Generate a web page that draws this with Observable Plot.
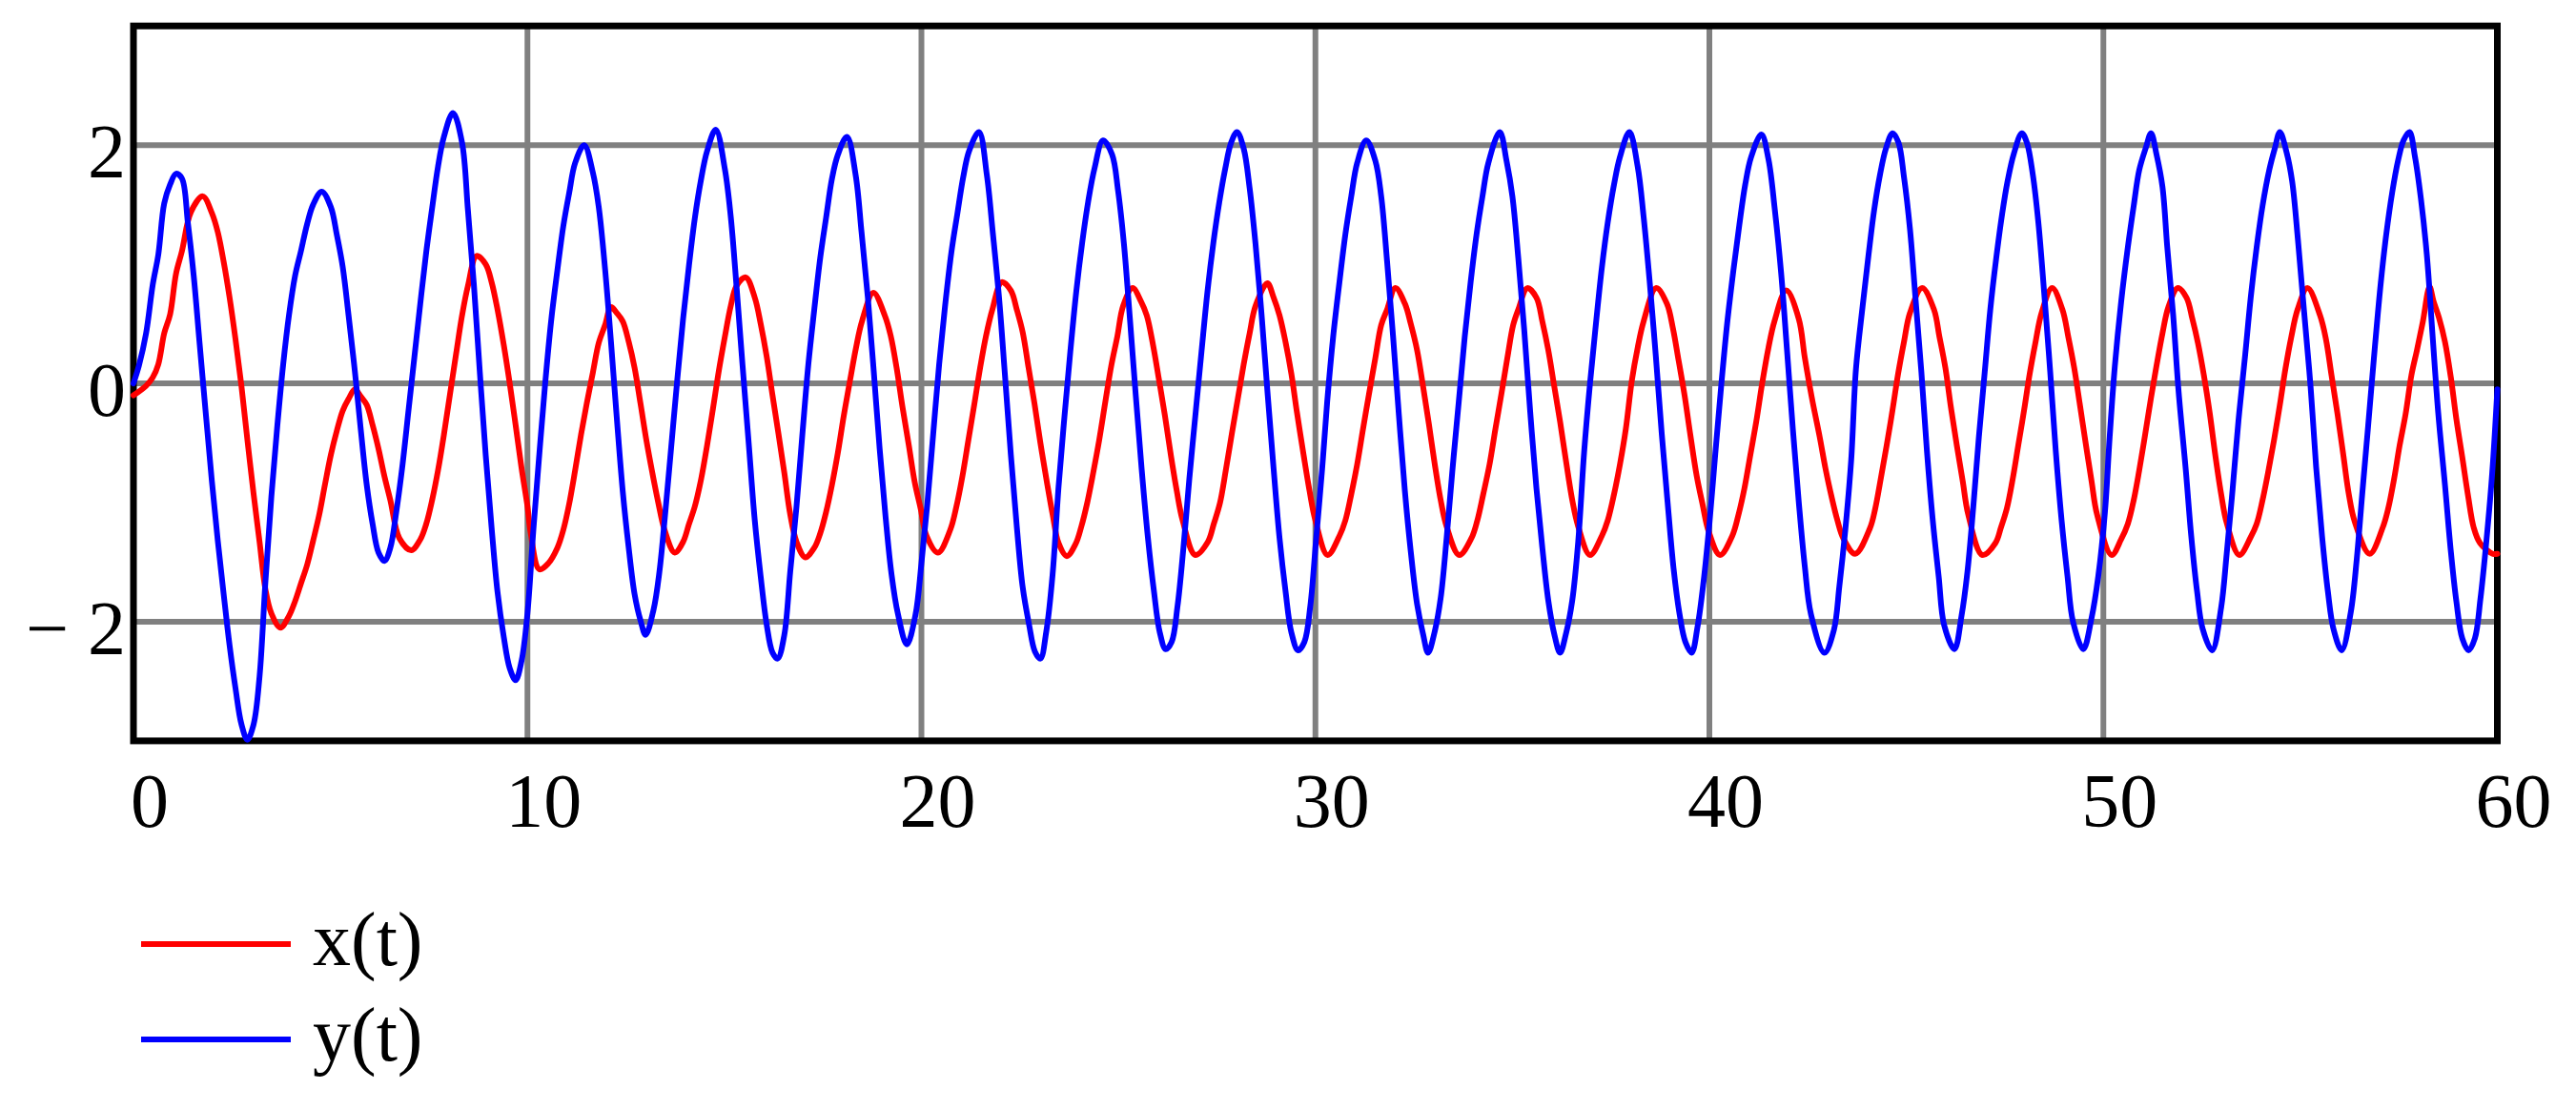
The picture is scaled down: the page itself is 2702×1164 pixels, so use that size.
<!DOCTYPE html>
<html>
<head>
<meta charset="utf-8">
<script src="https://cdn.jsdelivr.net/npm/d3@7"></script>
<script src="https://cdn.jsdelivr.net/npm/@observablehq/plot@0.6"></script>
<style>
  html, body { margin: 0; padding: 0; background: #fff; }
  #chart { width: 2702px; height: 1164px; overflow: hidden; }
  #legend svg text { font-family: "Liberation Serif", "DejaVu Serif", serif; font-size: 80px; }
</style>
</head>
<body>
<div id="chart"></div>
<script>
// ---- data ----
const seriesNames = ["x(t)", "y(t)"];
const seriesColors = ["#ff0000", "#0000ff"];

const xTicks = [0, 10, 20, 30, 40, 50, 60];
const xGrid = [10, 20, 30, 40, 50];
const yTicks = [-2, 0, 2];
const yTickLabels = ["\u2212 2", "0", "2"];
const yGrid = [-2, 0, 2];

// x(t) : red series
const tX = [
  0, 0.32, 0.49, 0.63, 0.78, 0.93, 1.08, 1.23, 1.46, 1.76, 1.99, 2.14, 2.29, 2.44, 2.59, 2.74, 2.89, 3.05, 3.20, 3.35,
  3.50, 3.73, 3.95, 4.10, 4.25, 4.41, 4.56, 4.71, 4.86, 5.01, 5.16, 5.31, 5.46, 5.62, 5.77, 5.92, 6.07, 6.22, 6.37, 6.52,
  6.75, 7.05, 7.28, 7.43, 7.58, 7.73, 7.88, 8.03, 8.19, 8.34, 8.49, 8.71, 8.94, 9.09, 9.24, 9.40, 9.55, 9.70, 9.85, 10.00,
  10.08, 10.30, 10.53, 10.76, 10.91, 11.06, 11.21, 11.36, 11.51, 11.66, 11.81, 11.97, 12.12, 12.27, 12.42, 12.57, 12.72, 12.87, 13.02, 13.17,
  13.32, 13.48, 13.74, 13.95, 14.10, 14.25, 14.41, 14.56, 14.71, 14.86, 15.01, 15.16, 15.31, 15.54, 15.77, 15.92, 16.07, 16.22, 16.37, 16.52,
  16.67, 16.83, 17.05, 17.28, 17.43, 17.58, 17.73, 17.88, 18.03, 18.19, 18.34, 18.49, 18.78, 19.07, 19.22, 19.37, 19.52, 19.68, 19.83, 19.98,
  20.13, 20.42, 20.73, 20.89, 21.04, 21.19, 21.34, 21.49, 21.64, 21.80, 22.04, 22.27, 22.42, 22.57, 22.72, 22.87, 23.02, 23.18, 23.33, 23.48,
  23.69, 23.91, 24.06, 24.21, 24.36, 24.51, 24.67, 24.82, 24.97, 25.12, 25.36, 25.57, 25.72, 25.88, 26.03, 26.18, 26.33, 26.48, 26.63, 26.95,
  27.27, 27.42, 27.58, 27.73, 27.88, 28.03, 28.18, 28.33, 28.48, 28.78, 28.94, 29.09, 29.24, 29.39, 29.53, 29.70, 29.85, 30.00, 30.31, 30.61,
  30.76, 30.91, 31.06, 31.21, 31.36, 31.52, 31.67, 31.82, 32.03, 32.27, 32.42, 32.58, 32.73, 32.88, 33.03, 33.18, 33.33, 33.65, 33.96, 34.11,
  34.26, 34.42, 34.57, 34.72, 34.87, 35.02, 35.15, 35.38, 35.61, 35.76, 35.91, 36.06, 36.21, 36.36, 36.52, 36.67, 36.97, 37.27, 37.42, 37.58,
  37.73, 37.88, 38.03, 38.18, 38.33, 38.65, 38.92, 39.07, 39.22, 39.37, 39.52, 39.68, 39.83, 39.98, 40.27, 40.58, 40.74, 40.89, 41.04, 41.19,
  41.34, 41.50, 41.65, 41.95, 42.27, 42.42, 42.60, 42.80, 42.95, 43.10, 43.25, 43.40, 43.70, 44.07, 44.21, 44.35, 44.50, 44.65, 44.79, 44.94, 45.09,
  45.40, 45.70, 45.84, 45.99, 46.13, 46.28, 46.43, 46.57, 46.93, 47.26, 47.40, 47.55, 47.70, 47.84, 47.99, 48.13, 48.28, 48.43, 48.70, 48.96,
  49.11, 49.26, 49.40, 49.55, 49.70, 49.84, 50.21, 50.45, 50.62, 50.77, 50.91, 51.06, 51.21, 51.35, 51.50, 51.65, 51.89, 52.11, 52.26, 52.40,
  52.55, 52.70, 52.84, 52.99, 53.13, 53.45, 53.74, 53.89, 54.04, 54.18, 54.33, 54.48, 54.62, 54.77, 54.93, 55.18, 55.50, 55.65, 55.79, 55.94,
  56.09, 56.23, 56.38, 56.76, 57.09, 57.23, 57.38, 57.52, 57.67, 57.82, 57.96, 58.11, 58.28, 58.38, 58.52, 58.67, 58.82, 58.96, 59.11, 59.26,
  59.40, 59.56, 59.88, 60.00
];
const xVals = [
  -0.10, -0.02, 0.05, 0.16, 0.42, 0.58, 0.92, 1.11, 1.44, 1.57, 1.43, 1.27, 1.02, 0.72, 0.37, -0.02, -0.47, -0.93, -1.33, -1.73,
  -1.93, -2.05, -1.95, -1.83, -1.68, -1.52, -1.32, -1.11, -0.85, -0.60, -0.40, -0.23, -0.13, -0.05, -0.11, -0.18, -0.35, -0.55, -0.78, -0.98,
  -1.30, -1.40, -1.31, -1.18, -0.98, -0.73, -0.43, -0.10, 0.25, 0.57, 0.82, 1.07, 1.00, 0.85, 0.62, 0.32, 0.00, -0.35, -0.71, -1.03,
  -1.25, -1.56, -1.51, -1.38, -1.23, -1.01, -0.73, -0.43, -0.16, 0.09, 0.34, 0.49, 0.64, 0.59, 0.52, 0.35, 0.13, -0.17, -0.48, -0.75,
  -1.00, -1.23, -1.42, -1.33, -1.18, -1.03, -0.80, -0.52, -0.21, 0.11, 0.39, 0.65, 0.82, 0.89, 0.72, 0.50, 0.23, -0.10, -0.42, -0.75,
  -1.10, -1.33, -1.46, -1.38, -1.26, -1.08, -0.85, -0.58, -0.27, 0.03, 0.30, 0.52, 0.76, 0.57, 0.40, 0.13, -0.20, -0.52, -0.83, -1.05,
  -1.28, -1.42, -1.23, -1.03, -0.78, -0.48, -0.18, 0.13, 0.40, 0.62, 0.85, 0.78, 0.62, 0.43, 0.13, -0.17, -0.50, -0.82, -1.10, -1.34,
  -1.45, -1.35, -1.20, -1.00, -0.75, -0.48, -0.15, 0.15, 0.39, 0.65, 0.80, 0.69, 0.57, 0.32, 0.03, -0.27, -0.60, -0.90, -1.15, -1.44,
  -1.33, -1.18, -1.00, -0.72, -0.42, -0.13, 0.16, 0.42, 0.65, 0.84, 0.72, 0.57, 0.35, 0.08, -0.24, -0.60, -0.90, -1.15, -1.44, -1.28,
  -1.15, -0.93, -0.68, -0.38, -0.09, 0.21, 0.49, 0.62, 0.80, 0.67, 0.50, 0.28, -0.02, -0.34, -0.68, -0.98, -1.20, -1.44, -1.30, -1.15,
  -0.93, -0.68, -0.38, -0.09, 0.21, 0.49, 0.62, 0.80, 0.72, 0.52, 0.28, -0.02, -0.32, -0.65, -0.98, -1.20, -1.44, -1.28, -1.15, -0.93,
  -0.68, -0.38, 0.02, 0.30, 0.52, 0.80, 0.67, 0.47, 0.19, -0.10, -0.44, -0.78, -1.02, -1.24, -1.44, -1.28, -1.10, -0.88, -0.60, -0.32,
  0.00, 0.30, 0.52, 0.78, 0.54, 0.22, -0.12, -0.45, -0.72, -0.95, -1.15, -1.30, -1.43, -1.22, -1.05, -0.80, -0.52, -0.22, 0.08, 0.35, 0.59,
  0.80, 0.62, 0.39, 0.13, -0.20, -0.52, -0.82, -1.10, -1.44, -1.34, -1.21, -1.05, -0.80, -0.52, -0.22, 0.08, 0.35, 0.59, 0.80, 0.62,
  0.39, 0.13, -0.17, -0.50, -0.82, -1.10, -1.44, -1.31, -1.18, -0.98, -0.73, -0.43, -0.12, 0.15, 0.42, 0.64, 0.80, 0.72, 0.54, 0.34,
  0.07, -0.25, -0.60, -0.93, -1.17, -1.44, -1.29, -1.18, -0.98, -0.75, -0.48, -0.18, 0.12, 0.39, 0.62, 0.80, 0.57, 0.37, 0.07, -0.25,
  -0.60, -0.93, -1.16, -1.43, -1.21, -1.05, -0.80, -0.52, -0.26, 0.07, 0.28, 0.52, 0.81, 0.69, 0.55, 0.35, 0.05, -0.30, -0.62, -0.95,
  -1.21, -1.34, -1.43, -1.43
];

// y(t) : blue series
const tY = [
  0, 0.14, 0.32, 0.49, 0.63, 0.78, 0.93, 1.08, 1.23, 1.38, 1.53, 1.68, 1.84, 1.99, 2.14, 2.29, 2.44, 2.59, 2.74, 2.89,
  3.05, 3.20, 3.35, 3.50, 3.65, 3.80, 3.95, 4.10, 4.25, 4.41, 4.56, 4.78, 5.01, 5.16, 5.31, 5.46, 5.62, 5.77, 5.92, 6.07,
  6.22, 6.37, 6.52, 6.67, 6.83, 6.98, 7.13, 7.28, 7.43, 7.58, 7.73, 7.88, 8.11, 8.34, 8.49, 8.64, 8.79, 8.94, 9.09, 9.24,
  9.40, 9.55, 9.70, 9.85, 10.00, 10.15, 10.30, 10.45, 10.60, 10.76, 10.91, 11.06, 11.21, 11.44, 11.66, 11.81, 11.97, 12.12, 12.27, 12.42,
  12.57, 12.72, 12.87, 13.00, 13.20, 13.35, 13.50, 13.65, 13.80, 13.95, 14.10, 14.25, 14.40, 14.56, 14.78, 15.01, 15.16, 15.31, 15.46, 15.62,
  15.77, 15.92, 16.07, 16.22, 16.35, 16.52, 16.67, 16.83, 16.98, 17.13, 17.28, 17.43, 17.58, 17.73, 17.88, 18.11, 18.33, 18.48, 18.64, 18.79,
  18.94, 19.09, 19.24, 19.40, 19.63, 19.85, 20.00, 20.15, 20.30, 20.45, 20.60, 20.76, 20.91, 21.06, 21.21, 21.46, 21.66, 21.81, 21.97, 22.12,
  22.27, 22.42, 22.57, 22.73, 22.88, 23.02, 23.17, 23.33, 23.48, 23.63, 23.78, 23.93, 24.08, 24.23, 24.39, 24.61, 24.84, 24.99, 25.14, 25.29,
  25.44, 25.59, 25.75, 25.90, 26.05, 26.20, 26.35, 26.50, 26.65, 26.80, 26.95, 27.11, 27.26, 27.41, 27.56, 27.71, 27.86, 28.01, 28.18, 28.33,
  28.48, 28.64, 28.79, 28.94, 29.09, 29.24, 29.39, 29.56, 29.72, 29.87, 30.02, 30.17, 30.30, 30.45, 30.61, 30.76, 30.91, 31.06, 31.29, 31.52,
  31.67, 31.82, 31.97, 32.12, 32.27, 32.42, 32.58, 32.73, 32.86, 33.03, 33.18, 33.33, 33.48, 33.64, 33.79, 33.94, 34.09, 34.24, 34.39, 34.68,
  34.85, 35.00, 35.15, 35.30, 35.45, 35.61, 35.76, 35.91, 36.06, 36.21, 36.36, 36.52, 36.67, 36.82, 36.97, 37.12, 37.27, 37.42, 37.58, 37.73,
  37.97, 38.18, 38.33, 38.48, 38.64, 38.79, 38.94, 39.09, 39.24, 39.39, 39.55, 39.70, 39.85, 40.00, 40.15, 40.30, 40.45, 40.61, 40.76, 40.91,
  41.06, 41.32, 41.50, 41.66, 41.82, 41.97, 42.12, 42.27, 42.42, 42.58, 42.92, 43.16, 43.30, 43.45, 43.60, 43.72, 43.89, 44.04, 44.18, 44.33,
  44.48, 44.65, 44.80, 44.94, 45.09, 45.23, 45.38, 45.52, 45.67, 45.82, 45.96, 46.22, 46.40, 46.55, 46.70, 46.84, 46.99, 47.13, 47.28, 47.43,
  47.57, 47.73, 47.93, 48.06, 48.21, 48.35, 48.50, 48.65, 48.79, 48.94, 49.09, 49.23, 49.49, 49.70, 49.87, 50.04, 50.16, 50.29, 50.45, 50.62,
  50.77, 50.91, 51.08, 51.21, 51.35, 51.50, 51.62, 51.77, 51.91, 52.09, 52.23, 52.38, 52.52, 52.76, 52.99, 53.13, 53.28, 53.43, 53.60, 53.74,
  53.89, 54.04, 54.21, 54.35, 54.48, 54.65, 54.79, 54.94, 55.09, 55.26, 55.40, 55.55, 55.70, 55.84, 56.05, 56.28, 56.43, 56.57, 56.72, 56.89,
  57.04, 57.18, 57.33, 57.48, 57.62, 57.77, 57.91, 58.06, 58.21, 58.35, 58.50, 58.67, 58.82, 58.96, 59.11, 59.27, 59.43, 59.57, 59.72, 59.87,
  60.00
];
const yVals = [
  0.00, 0.15, 0.42, 0.83, 1.08, 1.51, 1.67, 1.76, 1.72, 1.35, 0.90, 0.33, -0.27, -0.82, -1.32, -1.77, -2.20, -2.56, -2.86, -2.99,
  -2.86, -2.46, -1.66, -0.95, -0.36, 0.16, 0.58, 0.90, 1.11, 1.34, 1.50, 1.61, 1.48, 1.25, 0.98, 0.57, 0.10, -0.39, -0.85, -1.18,
  -1.42, -1.49, -1.38, -1.08, -0.68, -0.23, 0.22, 0.67, 1.10, 1.47, 1.82, 2.07, 2.27, 2.02, 1.45, 0.83, 0.10, -0.60, -1.21, -1.75,
  -2.13, -2.39, -2.49, -2.33, -1.93, -1.23, -0.60, 0.00, 0.52, 0.95, 1.32, 1.60, 1.85, 2.00, 1.77, 1.48, 0.96, 0.35, -0.30, -0.91,
  -1.38, -1.77, -1.99, -2.11, -1.90, -1.58, -1.08, -0.53, 0.02, 0.54, 0.99, 1.39, 1.70, 1.95, 2.13, 1.80, 1.40, 0.80, 0.15, -0.52,
  -1.15, -1.62, -2.02, -2.26, -2.31, -2.11, -1.58, -1.03, -0.42, 0.16, 0.62, 1.05, 1.39, 1.72, 1.92, 2.07, 1.75, 1.27, 0.72, 0.10,
  -0.55, -1.12, -1.60, -1.93, -2.19, -1.94, -1.51, -1.01, -0.42, 0.16, 0.65, 1.10, 1.42, 1.73, 1.95, 2.11, 1.75, 1.27, 0.72, 0.07,
  -0.60, -1.20, -1.71, -2.02, -2.25, -2.31, -2.08, -1.60, -0.87, -0.28, 0.27, 0.77, 1.18, 1.52, 1.80, 2.04, 1.92, 1.62, 1.17, 0.55,
  -0.10, -0.72, -1.30, -1.74, -2.09, -2.23, -2.17, -1.87, -1.38, -0.80, -0.28, 0.27, 0.77, 1.18, 1.52, 1.80, 2.02, 2.11, 1.97, 1.64,
  1.17, 0.55, -0.10, -0.72, -1.30, -1.74, -2.09, -2.24, -2.17, -1.87, -1.30, -0.72, -0.15, 0.39, 0.85, 1.25, 1.57, 1.85, 2.04, 1.87,
  1.57, 1.02, 0.40, -0.27, -0.90, -1.41, -1.85, -2.10, -2.26, -2.08, -1.80, -1.30, -0.72, -0.15, 0.39, 0.85, 1.25, 1.57, 1.85, 2.11,
  1.87, 1.57, 1.05, 0.45, -0.23, -0.88, -1.38, -1.82, -2.10, -2.26, -2.10, -1.82, -1.33, -0.58, 0.00, 0.50, 0.97, 1.35, 1.67, 1.90,
  2.11, 1.82, 1.40, 0.87, 0.23, -0.42, -1.00, -1.55, -1.93, -2.17, -2.26, -2.04, -1.67, -1.18, -0.59, -0.02, 0.50, 0.95, 1.33, 1.67,
  1.90, 2.09, 1.88, 1.46, 0.93, 0.28, -0.39, -1.00, -1.53, -1.94, -2.26, -2.07, -1.70, -1.23, -0.64, 0.12, 0.65, 1.08, 1.45, 1.75,
  1.97, 2.10, 2.02, 1.73, 1.30, 0.72, 0.10, -0.56, -1.15, -1.62, -2.03, -2.23, -1.95, -1.58, -1.03, -0.45, 0.10, 0.62, 1.05, 1.42,
  1.70, 1.93, 2.10, 2.02, 1.75, 1.35, 0.75, 0.10, -0.56, -1.15, -1.62, -2.00, -2.23, -1.97, -1.62, -1.08, -0.45, 0.14, 0.68, 1.14,
  1.49, 1.79, 1.98, 2.10, 1.92, 1.65, 1.15, 0.58, -0.07, -0.72, -1.28, -1.75, -2.06, -2.24, -1.88, -1.43, -0.89, -0.31, 0.24, 0.72,
  1.14, 1.49, 1.79, 1.97, 2.11, 1.94, 1.70, 1.20, 0.62, -0.03, -0.70, -1.28, -1.75, -2.06, -2.24, -1.92, -1.48, -0.93, -0.36, 0.30,
  0.84, 1.25, 1.60, 1.87, 2.04, 2.11, 1.90, 1.55, 1.08, 0.43, -0.25, -0.85, -1.41, -1.83, -2.14, -2.24, -2.14, -1.81, -1.33, -0.75,
  -0.05
];

const redRows = tX.map((t, i) => ({t, v: xVals[i]}));
const blueRows = tY.map((t, i) => ({t, v: yVals[i]}));

const chart = Plot.plot({
  width: 2702,
  height: 900,
  marginLeft: 139.5,
  marginRight: 83,
  marginTop: 26.7,
  marginBottom: 123.6,
  style: {fontFamily: "Liberation Serif", background: "#fff", color: "#000", overflow: "visible"},
  x: {domain: [0, 60]},
  y: {domain: [-3, 3]},
  marks: [
    Plot.ruleX(xGrid, {stroke: "#808080", strokeWidth: 6}),
    Plot.ruleY(yGrid, {stroke: "#808080", strokeWidth: 6}),
    Plot.frame({stroke: "#000", strokeWidth: 7}),
    Plot.line(redRows, {x: "t", y: "v", stroke: seriesColors[0], strokeWidth: 6, curve: "catmull-rom", strokeLinejoin: "round"}),
    Plot.line(blueRows, {x: "t", y: "v", stroke: seriesColors[1], strokeWidth: 6, curve: "catmull-rom", strokeLinejoin: "round"}),
    Plot.axisX(xTicks, {tickSize: 0, tickPadding: 33, dx: 17, fontSize: 80, fontFamily: "Liberation Serif", label: null, tickFormat: d => String(d)}),
    Plot.axisY(yTicks, {tickSize: 0, tickPadding: 8, dy: 8, fontSize: 80, fontFamily: "Liberation Serif", label: null,
      tickFormat: d => yTickLabels[yTicks.indexOf(d)]})
  ]
});
document.getElementById("chart").appendChild(chart);

// legend below the plot
const legend = document.createElement("div");
legend.id = "legend";
legend.style.width = "2702px";
legend.style.height = "264px";
const ns = "http://www.w3.org/2000/svg";
const lsvg = document.createElementNS(ns, "svg");
lsvg.setAttribute("width", 2702);
lsvg.setAttribute("height", 264);
seriesNames.forEach((name, i) => {
  const cy = 90 + i * 100;
  const ln = document.createElementNS(ns, "line");
  ln.setAttribute("x1", 148); ln.setAttribute("x2", 305);
  ln.setAttribute("y1", cy); ln.setAttribute("y2", cy);
  ln.setAttribute("stroke", seriesColors[i]); ln.setAttribute("stroke-width", 6);
  lsvg.appendChild(ln);
  const tx = document.createElementNS(ns, "text");
  tx.setAttribute("x", 328); tx.setAttribute("y", cy + 22);
  tx.setAttribute("fill", "#000");
  tx.textContent = name;
  lsvg.appendChild(tx);
});
legend.appendChild(lsvg);
document.getElementById("chart").appendChild(legend);
</script>
</body>
</html>
